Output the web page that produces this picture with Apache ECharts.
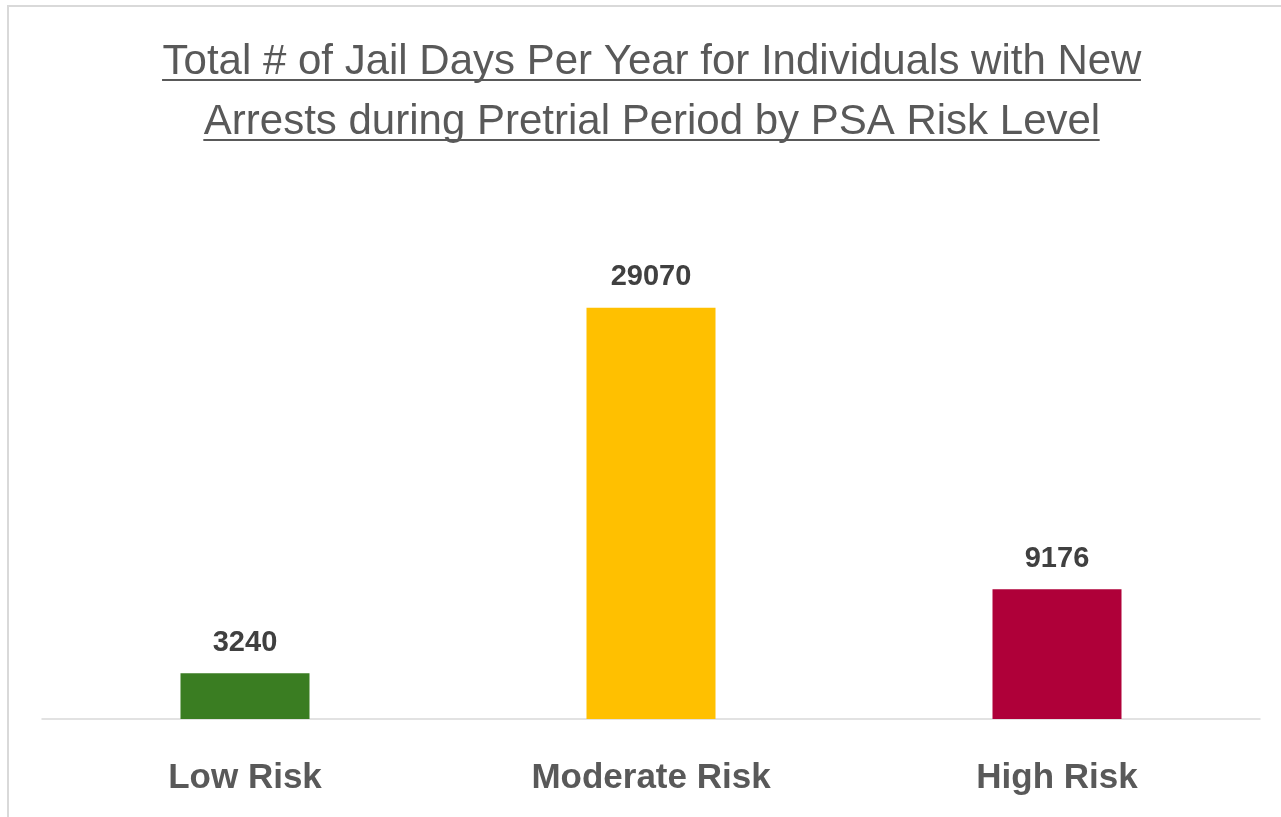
<!DOCTYPE html>
<html>
<head>
<meta charset="utf-8">
<script src="https://cdn.jsdelivr.net/npm/echarts@6/dist/echarts.min.js"></script>
<style>
html,body{margin:0;padding:0;background:#fff;}
#chart{width:1281px;height:817px;}
</style>
</head>
<body>
<div id="chart"></div>
<script>
const titleLines = ['Total # of Jail Days Per Year for Individuals with New', 'Arrests during Pretrial Period by PSA Risk Level'];
const categories = ['Low Risk', 'Moderate Risk', 'High Risk'];
const values = [3240, 29070, 9176];
const barColors = ['#3A7D22', '#FFC000', '#AF0039'];

const titleFont = '42px "Liberation Sans"';
const cx = 651.5;
const ctx = document.createElement('canvas').getContext('2d');
ctx.font = titleFont;
const w1 = ctx.measureText(titleLines[0]).width;
const w2 = ctx.measureText(titleLines[1]).width;

const chart = echarts.init(document.getElementById('chart'), null, {renderer: 'canvas'});
chart.setOption({
  animation: false,
  backgroundColor: '#fff',
  title: {
    text: titleLines.join('\n'),
    left: cx - 4.5,
    textAlign: 'center',
    top: 27,
    textStyle: {
      fontFamily: 'Liberation Sans',
      fontSize: 42,
      fontWeight: 'normal',
      lineHeight: 60,
      color: '#595959'
    }
  },
  grid: {left: 42, right: 21, top: 224, bottom: 98, containLabel: false},
  xAxis: {
    type: 'category',
    data: categories,
    axisLine: {show: true, lineStyle: {color: '#d9d9d9', width: 1.5}},
    axisTick: {show: false},
    axisLabel: {
      margin: 42,
      fontFamily: 'Liberation Sans',
      fontSize: 35,
      fontWeight: 'bold',
      color: '#595959'
    }
  },
  yAxis: {
    type: 'value',
    min: 0,
    max: 35000,
    show: false,
    splitLine: {show: false}
  },
  series: [{
    type: 'bar',
    barWidth: 129,
    data: values.map((v, i) => ({value: v, itemStyle: {color: barColors[i]}})),
    label: {
      show: true,
      position: 'top',
      distance: 16,
      fontFamily: 'Liberation Sans',
      fontSize: 29,
      fontWeight: 'bold',
      color: '#404040'
    }
  }],
  graphic: [
    {type: 'rect', shape: {x: 8, y: 6, width: 1400, height: 1000}, style: {fill: 'none', stroke: '#d9d9d9', lineWidth: 2}, silent: true},
    {type: 'line', shape: {x1: cx - w1 / 2, y1: 80, x2: cx + w1 / 2, y2: 80}, style: {stroke: '#595959', lineWidth: 2}, silent: true},
    {type: 'line', shape: {x1: cx - w2 / 2, y1: 140, x2: cx + w2 / 2, y2: 140}, style: {stroke: '#595959', lineWidth: 2}, silent: true}
  ]
});
</script>
</body>
</html>
